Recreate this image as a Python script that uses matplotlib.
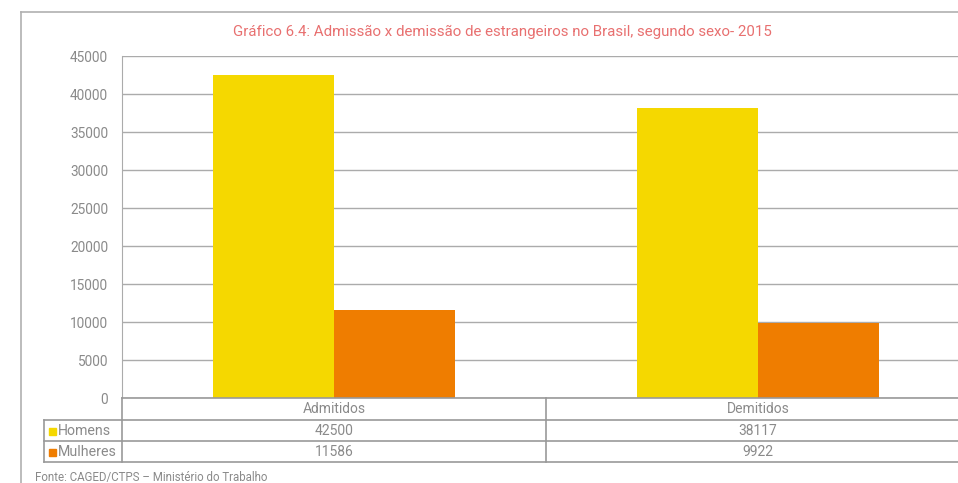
import matplotlib
matplotlib.use("Agg")
import matplotlib.pyplot as plt
from matplotlib.lines import Line2D
from matplotlib.patches import Rectangle

categories = ["Admitidos", "Demitidos"]
series_names = ["Homens", "Mulheres"]
homens = [42500, 38117]
mulheres = [11586, 9922]
yticks = [0, 5000, 10000, 15000, 20000, 25000, 30000, 35000, 40000, 45000]
title = "Gráfico 6.4: Admissão x demissão de estrangeiros no Brasil, segundo sexo- 2015"
fonte = "Fonte: CAGED/CTPS – Ministério do Trabalho"

yellow = "#F5D800"
orange = "#EF7D00"
grey_text = "#8A8A8A"
grey_line = "#ABABAB"

plt.rcParams['font.family'] = ['Roboto', 'DejaVu Sans']

W, H = 958, 483
fig = plt.figure(figsize=(W / 100, H / 100), dpi=100)

def fx(px):
    return px / W

def fy(py):
    return 1 - py / H

# plot area (right edge runs past the picture, as in the source)
left, right, top, bottom = 122, 970, 56, 398
ax = fig.add_axes([fx(left), fy(bottom), fx(right) - fx(left), fy(top) - fy(bottom)])
x = range(len(categories))
w = 0.285
ax.bar([i - w / 2 for i in x], homens, width=w, color=yellow, zorder=3)
ax.bar([i + w / 2 for i in x], mulheres, width=w, color=orange, zorder=3)
ax.set_xlim(-0.5, len(categories) - 0.5)
ax.set_ylim(0, 45000)
ax.set_yticks(yticks)
ax.set_yticklabels([str(v) for v in yticks], color=grey_text, fontsize=9.8)
ax.tick_params(axis='y', length=0, pad=10)
ax.set_xticks([])
ax.grid(axis='y', color=grey_line, linewidth=1, zorder=0)
for s in ["top", "right", "bottom"]:
    ax.spines[s].set_visible(False)
ax.spines["left"].set_color(grey_line)

# outer frame
fig.add_artist(Line2D([fx(21), fx(21)], [fy(12), 0], color="#B0B0B0", lw=1.2))
fig.add_artist(Line2D([fx(21), 1], [fy(12), fy(12)], color="#B0B0B0", lw=1.2))

fig.text(fx(502), fy(32), title, color="#E87070", fontsize=10.8, ha="center", va="center")

# data table under the axis
rows_y = [398, 420, 441, 462]
fig.add_artist(Line2D([fx(left), 1], [fy(rows_y[0])] * 2, color="#999999", lw=1.2))
for yy in rows_y[1:]:
    fig.add_artist(Line2D([fx(44), 1], [fy(yy)] * 2, color="#999999", lw=1.2))
fig.add_artist(Line2D([fx(44)] * 2, [fy(420), fy(462)], color="#999999", lw=1.2))
fig.add_artist(Line2D([fx(left)] * 2, [fy(398), fy(462)], color="#999999", lw=1.2))
mid = (left + right) / 2
fig.add_artist(Line2D([fx(mid)] * 2, [fy(398), fy(462)], color="#999999", lw=1.2))

cell_w = (right - left) / len(categories)
for i, cat in enumerate(categories):
    cx = left + cell_w * (i + 0.5)
    fig.text(fx(cx), fy(409), cat, color=grey_text, fontsize=10, ha="center", va="center")
    fig.text(fx(cx), fy(431), str(homens[i]), color=grey_text, fontsize=10, ha="center", va="center")
    fig.text(fx(cx), fy(452), str(mulheres[i]), color=grey_text, fontsize=10, ha="center", va="center")

for name, col, yy in zip(series_names, [yellow, orange], [431, 452]):
    fig.add_artist(Rectangle((fx(49), fy(yy + 3.5)), fx(7), 7 / H, color=col))
    fig.text(fx(58), fy(yy), name, color=grey_text, fontsize=10.2, ha="left", va="center")

fig.text(fx(35), fy(478), fonte, color=grey_text, fontsize=8.3, ha="left", va="center")

fig.savefig("out.png", dpi=100)
